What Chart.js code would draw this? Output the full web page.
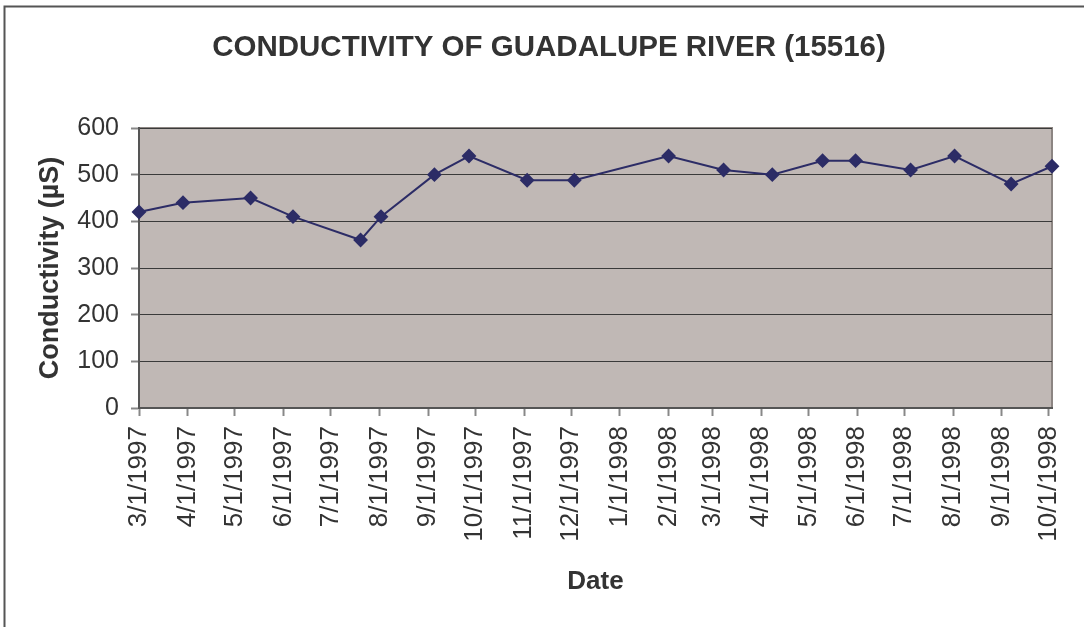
<!DOCTYPE html>
<html>
<head>
<meta charset="utf-8">
<title>Conductivity of Guadalupe River</title>
<script src="https://cdn.jsdelivr.net/npm/chart.js@4.4.1/dist/chart.umd.min.js"></script>
<style>
  body { margin: 0; background: #fff; }
  canvas { display: block; }
</style>
</head>
<body>
<canvas id="chart" width="1084" height="627"></canvas>
<script>
// sample dates (m/d/yyyy) and conductivity readings
const sampleDates = ["3/1/1997", "3/29/1997", "5/11/1997", "6/7/1997", "7/20/1997", "8/2/1997",
  "9/5/1997", "9/27/1997", "11/3/1997", "12/3/1997", "2/1/1998", "3/8/1998", "4/8/1998",
  "5/10/1998", "5/31/1998", "7/5/1998", "8/2/1998", "9/7/1998", "10/3/1998"];
const conductivity = [420, 440, 450, 410, 360, 410, 500, 540, 488, 488, 540, 510, 500,
  530, 530, 510, 540, 480, 518];
const tickDates = ["3/1/1997", "4/1/1997", "5/1/1997", "6/1/1997", "7/1/1997", "8/1/1997",
  "9/1/1997", "10/1/1997", "11/1/1997", "12/1/1997", "1/1/1998", "2/1/1998", "3/1/1998",
  "4/1/1998", "5/1/1998", "6/1/1998", "7/1/1998", "8/1/1998", "9/1/1998", "10/1/1998"];
const yTicks = [0, 100, 200, 300, 400, 500, 600];

const chartTitle = "CONDUCTIVITY OF GUADALUPE RIVER (15516)";
const FONT = "'Liberation Sans', Arial, sans-serif";
const TEXT = "#333333";

// day number from m/d/yyyy
function toDay(s) {
  const [m, d, y] = s.split("/").map(Number);
  return Date.UTC(y, m - 1, d) / 86400000;
}

// white page, outer frame, plot background and title
const framePlugin = {
  id: "frame",
  beforeDraw(chart) {
    const ctx = chart.ctx;
    const a = chart.chartArea;
    ctx.save();
    ctx.fillStyle = "#fff";
    ctx.fillRect(0, 0, chart.width, chart.height);
    ctx.strokeStyle = "#555";
    ctx.lineWidth = 2;
    ctx.beginPath();
    ctx.moveTo(4.5, chart.height);
    ctx.lineTo(4.5, 6.5);
    ctx.lineTo(chart.width, 6.5);
    ctx.stroke();
    ctx.fillStyle = "#C0B8B5";
    ctx.fillRect(a.left, a.top, a.right - a.left, a.bottom - a.top);
    ctx.strokeStyle = "#8C8582";
    ctx.lineWidth = 2;
    ctx.beginPath();
    ctx.moveTo(a.left, a.top);
    ctx.lineTo(a.right, a.top);
    ctx.lineTo(a.right, a.bottom);
    ctx.stroke();
    ctx.font = "bold 29.5px " + FONT;
    ctx.fillStyle = TEXT;
    ctx.textAlign = "center";
    ctx.textBaseline = "middle";
    ctx.fillText(chartTitle, 549, 48);
    ctx.restore();
  }
};

new Chart(document.getElementById("chart"), {
  type: "line",
  data: {
    datasets: [{
      label: "Conductivity",
      data: sampleDates.map((d, i) => ({ x: toDay(d), y: conductivity[i] })),
      borderColor: "#2C2C66",
      backgroundColor: "#2C2C66",
      borderWidth: 2,
      pointStyle: "rectRot",
      pointRadius: 6,
      pointHoverRadius: 6,
      tension: 0,
      clip: false
    }]
  },
  options: {
    responsive: false,
    animation: false,
    layout: { padding: { left: 4, top: 128, right: 32, bottom: 0 } },
    plugins: {
      legend: { display: false },
      title: { display: false },
      tooltip: { enabled: false }
    },
    scales: {
      x: {
        type: "linear",
        min: toDay(sampleDates[0]),
        max: toDay(sampleDates[sampleDates.length - 1]),
        afterBuildTicks: (scale) => {
          scale.ticks = tickDates.map(d => ({ value: toDay(d) }));
        },
        afterFit: (scale) => {
          scale.height = 219;
          scale.paddingLeft = 0;
          scale.paddingRight = 0;
        },
        border: { color: "#555", width: 2 },
        grid: { drawOnChartArea: false, tickLength: 8, tickColor: "#888", tickWidth: 2 },
        ticks: {
          autoSkip: false,
          minRotation: 90,
          maxRotation: 90,
          padding: 10,
          color: TEXT,
          font: { family: FONT, size: 26 },
          callback: (v, i) => tickDates[i]
        },
        title: {
          display: true,
          text: "Date",
          color: TEXT,
          font: { family: FONT, size: 26, weight: "bold" },
          padding: { top: 0, bottom: 30 }
        }
      },
      y: {
        min: yTicks[0],
        max: yTicks[yTicks.length - 1],
        afterBuildTicks: (scale) => {
          scale.ticks = yTicks.map(v => ({ value: v }));
        },
        afterFit: (scale) => { scale.width = 135; },
        border: { color: "#555", width: 2 },
        grid: { color: "#3A3A3A", lineWidth: 1, tickLength: 8, tickColor: "#888", tickWidth: 2 },
        ticks: {
          padding: 12,
          color: TEXT,
          font: { family: FONT, size: 25 }
        },
        title: {
          display: true,
          text: "Conductivity (µS)",
          color: TEXT,
          font: { family: FONT, size: 27, weight: "bold" },
          padding: { top: 30, bottom: 0 }
        }
      }
    }
  },
  plugins: [framePlugin]
});
</script>
</body>
</html>
